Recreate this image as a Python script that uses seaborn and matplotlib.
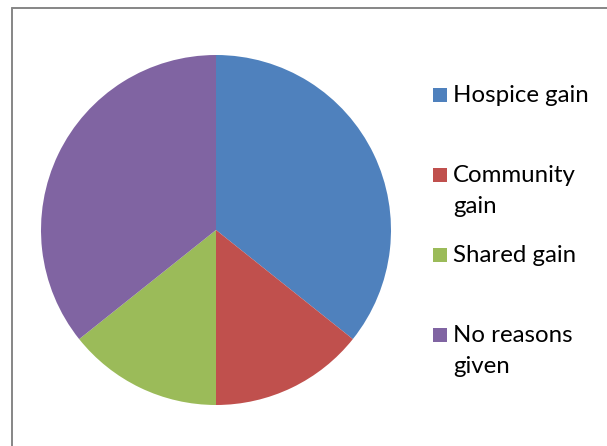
import matplotlib
matplotlib.use("Agg")
import matplotlib.pyplot as plt
import seaborn as sns
from matplotlib.lines import Line2D
from matplotlib.patches import Rectangle

# ==========================================
# Data
# ==========================================
categories = ["Hospice gain", "Community\ngain", "Shared gain", "No reasons\ngiven"]
counts = [5, 2, 2, 5]
colors = ["#4F81BD", "#C0504D", "#9BBB59", "#8064A2"]

# ==========================================
# Layout (pixels, figure is 607 x 446)
# ==========================================
W, H = 607, 446
legend_baselines = [102, 182, 262, 342]   # baseline of first line of each entry
line_step = 31
square_x, square_size = 433, 14
text_x = 453

sns.set_style("white")
plt.rcParams["font.family"] = ["Lato", "DejaVu Sans"]

fig = plt.figure(figsize=(W / 100, H / 100), dpi=100)
fig.patch.set_facecolor("white")

# pie axes: center (216, 230), radius 175
cx, cy, r = 216, 230, 175
ax = fig.add_axes([(cx - r) / W, (H - cy - r) / H, 2 * r / W, 2 * r / H])
ax.pie(counts, colors=colors, startangle=90, counterclock=False,
       radius=1, wedgeprops=dict(linewidth=0))
ax.set_xlim(-1, 1)
ax.set_ylim(-1, 1)
ax.set_aspect("equal")
ax.axis("off")

# chart border (right/bottom edges fall outside the picture)
border = dict(color="#868686", linewidth=1.4, transform=fig.transFigure)
fig.add_artist(Line2D([12 / W, 1], [1 - 8 / H, 1 - 8 / H], **border))
fig.add_artist(Line2D([12 / W, 12 / W], [1 - 8 / H, 0], **border))

# legend
for label, color, base in zip(categories, colors, legend_baselines):
    fig.add_artist(Rectangle((square_x / W, 1 - base / H), square_size / W, square_size / H,
                             facecolor=color, edgecolor="none", transform=fig.transFigure))
    for i, line in enumerate(label.split("\n")):
        fig.text(text_x / W, 1 - (base + i * line_step) / H, line,
                 fontsize=17.3, va="baseline", ha="left", color="black")

fig.savefig("out.png", dpi=100)
